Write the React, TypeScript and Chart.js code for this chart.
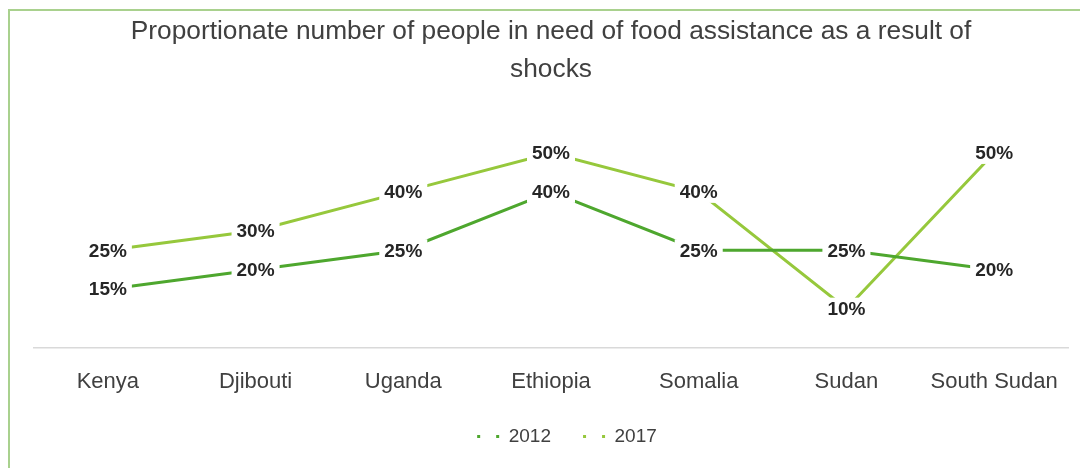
import React, { useEffect, useRef } from 'react';
import { Chart, registerables } from 'chart.js';

Chart.register(...registerables);

const titleLines = ['Proportionate number of people in need of food assistance as a result of', 'shocks'];
const categories = ['Kenya', 'Djibouti', 'Uganda', 'Ethiopia', 'Somalia', 'Sudan', 'South Sudan'];
const values2012 = [15, 20, 25, 40, 25, 25, 20];
const values2017 = [25, 30, 40, 50, 40, 10, 50];
const seriesNames = ['2012', '2017'];
const seriesColors = ['#4ea72e', '#96c83c'];

const FONT = '"Liberation Sans", Arial, sans-serif';

const pointLabelPlugin = {
  id: 'pointLabels',
  afterLayout(chart: any) {
    // nudge the legend row to the right, as in the reference
    if (chart.legend) {
      chart.legend.left += 32;
    }
  },
  afterDatasetsDraw(chart: any) {
    const ctx = chart.ctx;
    ctx.save();
    ctx.font = `bold 19px ${FONT}`;
    ctx.textAlign = 'center';
    ctx.textBaseline = 'middle';
    chart.data.datasets.forEach((ds: any, i: number) => {
      const meta = chart.getDatasetMeta(i);
      meta.data.forEach((pt: any, j: number) => {
        const text = ds.data[j] + '%';
        const w = ctx.measureText(text).width;
        ctx.fillStyle = '#ffffff';
        ctx.fillRect(pt.x - w / 2 - 5, pt.y - 11, w + 10, 22);
        ctx.fillStyle = '#262626';
        ctx.fillText(text, pt.x, pt.y + 1);
      });
    });
    ctx.restore();
  },
};

export default function App() {
  const ref = useRef<HTMLCanvasElement>(null);
  useEffect(() => {
    if (!ref.current) return;
    const chart = new Chart(ref.current, {
      type: 'line',
      data: {
        labels: categories,
        datasets: [
          { label: seriesNames[0], data: values2012, borderColor: seriesColors[0], backgroundColor: seriesColors[0], borderWidth: 3, pointRadius: 0, tension: 0 },
          { label: seriesNames[1], data: values2017, borderColor: seriesColors[1], backgroundColor: seriesColors[1], borderWidth: 3, pointRadius: 0, tension: 0 },
        ],
      },
      options: {
        responsive: false,
        animation: false,
        layout: { padding: { left: 24, right: 12, top: 0, bottom: 12 } },
        plugins: {
          title: {
            display: true,
            text: titleLines,
            color: '#404040',
            font: { family: FONT, size: 26.3, weight: 'normal', lineHeight: 38 / 26.3 },
            padding: { top: 2, bottom: 25 },
          },
          legend: {
            display: true,
            position: 'bottom',
            labels: {
              usePointStyle: true,
              pointStyleWidth: 22,
              padding: 11,
              color: '#404040',
              font: { family: FONT, size: 19 },
              generateLabels: (c: any) =>
                c.data.datasets.map((ds: any, i: number) => ({
                  text: i === 0 ? ds.label + '    ' : ds.label,
                  fillStyle: ds.borderColor,
                  strokeStyle: ds.borderColor,
                  lineWidth: 3,
                  lineDash: [3, 16],
                  pointStyle: 'line',
                  hidden: false,
                  datasetIndex: i,
                  fontColor: '#404040',
                })),
            },
          },
          tooltip: { enabled: false },
        },
        scales: {
          x: {
            offset: true,
            grid: { display: false, drawTicks: false },
            border: { display: true, color: '#d9d9d9', width: 1.5 },
            ticks: { color: '#404040', font: { family: FONT, size: 22 }, padding: 21 },
          },
          y: {
            display: false,
            min: 0,
            max: 60,
          },
        },
      },
      plugins: [pointLabelPlugin],
    });
    return () => chart.destroy();
  }, []);
  return (
    <div
      style={{
        position: 'absolute',
        left: 8,
        top: 9,
        width: 1072,
        height: 459,
        boxSizing: 'border-box',
        borderTop: '2px solid #a9d18e',
        borderLeft: '2px solid #a9d18e',
        background: '#fff',
      }}
    >
      <canvas ref={ref} width={1070} height={457} style={{ display: 'block' }} />
    </div>
  );
}
